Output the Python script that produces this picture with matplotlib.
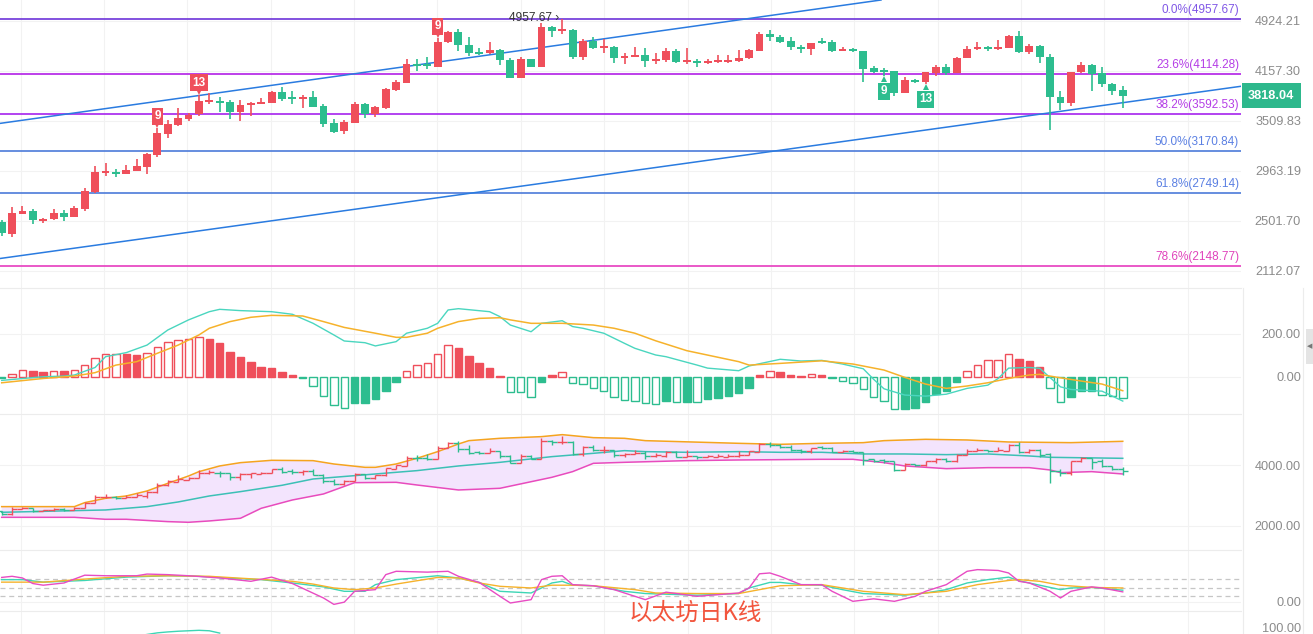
import numpy as np
import matplotlib
matplotlib.use('Agg')
import matplotlib.pyplot as plt
import matplotlib.ticker as mticker
import matplotlib.transforms as mtransforms
from matplotlib.patches import Rectangle

plt.rcParams['font.family'] = ['Liberation Sans', 'DejaVu Sans']

# ======================================================
# DANE - swiece dzienne ETH
# ======================================================

opens = [2494, 2391, 2562, 2585, 2502, 2514, 2566, 2536, 2605, 2757,
         2940, 2953, 2933, 2963, 3003, 3125, 3356, 3460, 3530, 3587,
         3740, 3752, 3740, 3619, 3699, 3715, 3731, 3864, 3803, 3781,
         3799, 3688, 3479, 3386, 3486, 3710, 3587, 3668, 3894, 3992,
         4249, 4249, 4215, 4577, 4734, 4537, 4434, 4410, 4459, 4311,
         4060, 4321, 4215, 4815, 4755, 4771, 4360, 4597, 4494, 4504,
         4345, 4360, 4390, 4296, 4311, 4444, 4286, 4296, 4263, 4286,
         4286, 4301, 4336, 4449, 4708, 4655, 4592, 4510, 4470, 4597,
         4577, 4449, 4474, 4449, 4199, 4167, 4153, 3859, 4029, 4002,
         4129, 4213, 4129, 4345, 4470, 4504, 4470, 4484, 4681, 4434,
         4519, 4360, 3808, 3730, 4134, 4241, 4125, 3970, 3894]
highs = [2508, 2618, 2632, 2600, 2522, 2603, 2591, 2629, 2797, 3010,
         3038, 2980, 3017, 3078, 3143, 3420, 3518, 3668, 3606, 3834,
         3850, 3799, 3761, 3761, 3744, 3787, 3877, 3930, 3877, 3829,
         3881, 3718, 3534, 3518, 3736, 3723, 3689, 3922, 4024, 4321,
         4325, 4359, 4639, 4760, 4788, 4655, 4484, 4578, 4474, 4344,
         4359, 4330, 4886, 4836, 4957.67, 4788, 4628, 4655, 4624, 4519,
         4410, 4499, 4484, 4410, 4484, 4470, 4489, 4321, 4325, 4380,
         4380, 4455, 4479, 4739, 4771, 4692, 4665, 4530, 4571, 4639,
         4612, 4504, 4494, 4449, 4222, 4199, 4153, 4066, 4038, 4139,
         4232, 4251, 4360, 4525, 4582, 4519, 4612, 4697, 4755, 4550,
         4530, 4395, 3877, 4143, 4282, 4251, 4213, 3984, 3945]
lows = [2376, 2369, 2557, 2474, 2485, 2508, 2502, 2531, 2588, 2750,
        2913, 2903, 2930, 2960, 2930, 3101, 3310, 3452, 3503, 3570,
        3720, 3617, 3527, 3503, 3570, 3711, 3731, 3750, 3712, 3668,
        3672, 3431, 3367, 3352, 3479, 3540, 3558, 3647, 3881, 3992,
        4153, 4186, 4215, 4561, 4449, 4370, 4386, 4395, 4239, 4060,
        4060, 4206, 4206, 4665, 4710, 4326, 4316, 4474, 4420, 4267,
        4257, 4360, 4208, 4257, 4282, 4267, 4257, 4215, 4257, 4272,
        4267, 4282, 4326, 4440, 4602, 4571, 4459, 4410, 4390, 4550,
        4434, 4440, 4430, 4005, 4121, 4080, 3816, 3851, 3992, 3971,
        4080, 4093, 4121, 4336, 4459, 4449, 4459, 4484, 4420, 4400,
        4267, 3401, 3640, 3689, 4121, 3885, 3939, 3829, 3668]
closes = [2398, 2571, 2585, 2505, 2516, 2566, 2536, 2609, 2766, 2950,
          2960, 2933, 2970, 3010, 3135, 3367, 3472, 3542, 3578, 3752,
          3765, 3731, 3619, 3705, 3731, 3740, 3868, 3781, 3781, 3799,
          3679, 3474, 3382, 3494, 3711, 3590, 3673, 3904, 4002, 4249,
          4229, 4220, 4577, 4734, 4537, 4420, 4405, 4459, 4307, 4060,
          4321, 4215, 4815, 4755, 4782, 4360, 4597, 4494, 4519, 4345,
          4370, 4390, 4296, 4326, 4444, 4286, 4311, 4263, 4296, 4311,
          4311, 4336, 4459, 4708, 4655, 4587, 4510, 4470, 4571, 4571,
          4449, 4474, 4440, 4181, 4143, 4143, 3859, 4029, 4002, 4139,
          4213, 4129, 4345, 4474, 4504, 4470, 4499, 4676, 4434, 4519,
          4351, 3808, 3730, 4134, 4241, 4116, 3970, 3885, 3818.04]

price_ticks = [4924.21, 4157.30, 3509.83, 2963.19, 2501.70, 2112.07]

fib_labels = ['0.0%', '23.6%', '38.2%', '50.0%', '61.8%', '78.6%']
fib_prices = [4957.67, 4114.28, 3592.53, 3170.84, 2749.14, 2148.77]
fib_line_colors = ['#6d34d9', '#b21fe6', '#a623ee', '#4c7ad9', '#4c7ad9', '#e63cbf']
fib_text_colors = ['#8057e6', '#b43de6', '#b43de6', '#5b80e3', '#5b80e3', '#e043bb']

# linie trendu: dwa punkty (indeks swiecy, cena)
trend_upper_idx = [0, 80]
trend_upper_price = [3481, 5161]
trend_lower_idx = [0, 100]
trend_lower_price = [2203, 3588]

# sekwencja TD
td_up_idx = [15, 19, 42]
td_up_text = ['9', '13', '9']
td_dn_idx = [85, 89]
td_dn_text = ['9', '13']

# MACD - histogram (1 = wypelniony slupek)
macd_hist = [-4, 15, 31, 28, 22, 26, 25, 31, 53, 85,
             105, 105, 104, 103, 108, 136, 160, 169, 175, 183,
             175, 157, 115, 91, 68, 45, 39, 22, 8, -8,
             -43, -91, -133, -147, -121, -121, -105, -65, -26, 26,
             53, 64, 104, 146, 133, 96, 64, 40, 5, -70,
             -71, -93, -26, 8, 20, -29, -36, -54, -64, -95,
             -109, -112, -124, -127, -112, -116, -115, -117, -105, -101,
             -88, -74, -51, 6, 26, 22, 6, 5, 11, 6,
             -8, -20, -31, -56, -96, -112, -149, -149, -144, -116,
             -81, -64, -23, 26, 53, 76, 78, 105, 82, 73,
             45, -50, -116, -96, -68, -67, -85, -88, -101]
macd_filled = [1, 0, 0, 1, 1, 0, 1, 0, 0, 0,
               0, 0, 1, 1, 0, 0, 0, 0, 0, 0,
               1, 1, 1, 1, 1, 1, 1, 1, 1, 0,
               0, 0, 0, 0, 1, 1, 1, 1, 1, 0,
               0, 0, 0, 0, 1, 1, 1, 1, 1, 0,
               0, 0, 1, 1, 0, 0, 0, 0, 0, 0,
               0, 0, 0, 0, 1, 0, 1, 0, 1, 1,
               1, 1, 1, 1, 0, 1, 1, 1, 0, 1,
               0, 0, 0, 0, 0, 0, 0, 1, 1, 1,
               1, 1, 1, 0, 0, 0, 0, 0, 1, 1,
               1, 0, 0, 1, 1, 1, 0, 0, 0]
dif_idx = [0, 4, 6, 7, 9, 10, 12, 14, 16, 18, 20, 21, 23, 26, 28, 30, 32, 33, 35, 36,
           38, 39, 41, 42, 43, 44, 47, 48, 49, 51, 52, 54, 55, 56, 58, 60, 61, 63, 64, 67,
           68, 71, 72, 75, 77, 79, 81, 83, 84, 85, 87, 89, 91, 93, 95, 96, 97, 99, 100, 102,
           103, 104, 106, 107, 108]
dif_val = [-17, 0, 3, 8, 43, 93, 112, 147, 217, 264, 302, 313, 307, 302, 290, 248, 194, 166, 158, 143,
           163, 202, 225, 248, 310, 316, 302, 279, 240, 209, 248, 260, 233, 225, 202, 155, 132, 101, 93, 54,
           40, 28, 50, 81, 73, 76, 59, 37, -12, -56, -85, -90, -81, -54, -39, -8, 40, 43, 39, -47,
           -59, -62, -67, -90, -113]
dea_idx = [0, 4, 7, 9, 11, 13, 15, 17, 19, 20, 22, 24, 26, 29, 31, 33, 36, 38, 39, 41,
           42, 44, 46, 48, 49, 51, 54, 57, 59, 61, 63, 66, 71, 72, 75, 79, 82, 85, 87, 89,
           91, 93, 95, 97, 99, 100, 102, 104, 106, 108]
dea_val = [-28, -8, 3, 19, 54, 70, 109, 147, 194, 225, 256, 276, 285, 282, 256, 229, 202, 183, 183, 202,
           225, 256, 271, 274, 264, 248, 248, 240, 225, 202, 167, 121, 70, 54, 62, 74, 59, 31, -3, -34,
           -54, -43, -28, -8, 8, 11, -5, -20, -34, -65]

# BOLL
up_idx = [0, 7, 8, 10, 12, 14, 16, 18, 19, 21, 23, 26, 30, 32, 35, 36, 38, 40, 42, 44,
          45, 48, 52, 54, 57, 60, 62, 71, 75, 79, 83, 85, 89, 93, 97, 103, 108]
up_val = [2638, 2638, 2770, 2912, 2989, 3154, 3406, 3648, 3791, 3978, 4087, 4164, 4153, 4043, 3933,
          3933, 4043, 4230, 4450, 4702, 4812, 4889, 4944, 5010, 4911, 4889, 4812, 4724, 4691, 4724,
          4746, 4812, 4856, 4834, 4768, 4746, 4790]
mid_idx = [0, 7, 10, 14, 17, 20, 23, 27, 30, 32, 36, 40, 44, 48, 53, 57, 60, 62, 66, 71,
           75, 79, 83, 87, 91, 95, 99, 101, 108]
mid_val = [2451, 2506, 2528, 2638, 2792, 2989, 3132, 3341, 3549, 3604, 3714, 3824, 3978, 4098, 4285,
           4395, 4483, 4450, 4428, 4450, 4428, 4428, 4373, 4373, 4351, 4373, 4307, 4263, 4230]
dn_idx = [0, 7, 10, 12, 16, 18, 20, 23, 25, 28, 31, 34, 38, 40, 44, 48, 53, 55, 57, 60,
          66, 71, 79, 82, 85, 87, 91, 95, 99, 101, 102, 105, 108]
dn_val = [2286, 2286, 2221, 2221, 2144, 2122, 2166, 2254, 2583, 2857, 3055, 3428, 3439, 3351, 3187,
          3242, 3604, 3791, 4065, 4098, 4153, 4175, 4197, 4197, 4087, 3978, 3889, 3922, 3922, 3846,
          3758, 3791, 3714]

# KDJ
k_idx = [0, 2, 4, 8, 12, 16, 19, 22, 25, 28, 31, 33, 35, 36, 38, 42, 44, 46, 48, 51,
         53, 54, 55, 57, 60, 62, 67, 71, 72, 74, 75, 77, 79, 81, 83, 87, 89, 91, 93, 95,
         97, 98, 100, 102, 103, 105, 108]
k_val = [79, 79, 70, 76, 88, 93, 91, 84, 79, 67, 53, 37, 37, 61, 79, 93, 85, 69, 37, 31,
         67, 73, 59, 57, 37, 29, 23, 29, 49, 69, 69, 61, 59, 43, 29, 23, 31, 43, 67, 79,
         88, 75, 59, 43, 49, 51, 41]
d_idx = [0, 4, 8, 12, 16, 20, 24, 28, 30, 32, 34, 36, 38, 42, 44, 46, 48, 51, 53, 55,
         57, 61, 63, 67, 71, 73, 75, 79, 83, 87, 91, 94, 97, 98, 100, 102, 105, 108]
d_val = [70, 70, 81, 91, 93, 91, 82, 73, 63, 49, 43, 49, 63, 87, 85, 67, 55, 49, 59, 59,
         57, 43, 31, 29, 29, 43, 57, 61, 37, 25, 37, 61, 76, 79, 73, 59, 51, 49]
j_idx = [0, 1, 2, 3, 4, 6, 8, 10, 13, 14, 16, 18, 21, 24, 26, 28, 31, 32, 33, 34,
         36, 37, 38, 41, 43, 44, 46, 48, 49, 51, 52, 53, 54, 55, 57, 59, 61, 62, 64, 67,
         69, 71, 72, 73, 74, 75, 77, 79, 80, 82, 84, 86, 88, 89, 91, 93, 94, 96, 97, 98,
         99, 101, 102, 103, 105, 106, 108]
j_val = [87, 91, 85, 65, 59, 67, 95, 93, 93, 99, 97, 93, 85, 73, 88, 65, 13, -10, -2, 37,
         43, 97, 109, 106, 109, 91, 69, 19, -5, 7, 79, 91, 93, 61, 57, 43, 19, 7, 34, 19,
         25, 31, 49, 100, 103, 91, 61, 61, 37, 1, 10, 1, 19, 37, 61, 109, 115, 112, 103, 73,
         67, 37, 13, 37, 53, 49, 35]

# dolny panel (widoczny tylko fragment linii)
low_idx = [13, 14, 15, 16, 17, 18, 19, 20, 21]
low_vals = [60, 68, 75, 79, 82, 84, 86, 84, 74]

# ======================================================
# STYL
# ======================================================

W, H = 1313, 634
RED = '#ef4f5b'
GREEN = '#2dbd8f'
GRID = '#f2f2f2'
LABEL = '#8b8b8b'
XMIN, XMAX = -0.164, 119.39
VGRID = np.arange(1.83, XMAX, 8.03)


def px_rect(x0, y0, x1, y1):
    return [x0 / W, 1 - y1 / H, (x1 - x0) / W, (y1 - y0) / H]


def style_panel(ax, ticks, labels, top_line=True):
    for s in ax.spines.values():
        s.set_visible(False)
    if top_line:
        ax.spines['top'].set_visible(True)
        ax.spines['top'].set_color('#ececec')
        ax.spines['top'].set_linewidth(0.8)
    ax.set_xlim(XMIN, XMAX)
    ax.set_xticks(VGRID)
    ax.set_xticklabels([])
    ax.set_yticks(ticks)
    ax.set_yticklabels(labels)
    ax.yaxis.set_minor_locator(mticker.NullLocator())
    ax.tick_params(axis='x', length=0)
    ax.tick_params(axis='y', left=False, labelleft=False, right=False, labelright=True,
                   length=0, pad=43.2, labelsize=9.2, labelcolor=LABEL)
    for lbl in ax.get_yticklabels():
        lbl.set_horizontalalignment('right')
    ax.grid(True, color=GRID, lw=0.8)
    ax.set_axisbelow(True)


idx = np.arange(len(closes))
o = np.array(opens, dtype=float)
h = np.array(highs, dtype=float)
l = np.array(lows, dtype=float)
c = np.array(closes, dtype=float)
up = c >= o
colors = np.where(up, RED, GREEN)

fig = plt.figure(figsize=(W / 100, H / 100), dpi=100)

# ======================================================
# PANEL GLOWNY - swiece, Fibonacci, trend
# ======================================================

ax = fig.add_axes(px_rect(0, 0, 1241, 288))
ax.set_yscale('log')
ax.set_ylim(1992, 5282)
style_panel(ax, price_ticks, ['%.2f' % t for t in price_ticks], top_line=False)

for lab, p, lc, tc in zip(fib_labels, fib_prices, fib_line_colors, fib_text_colors):
    ax.axhline(p, color=lc, lw=1.2, zorder=2)
    ax.annotate('%s(%.2f)' % (lab, p), xy=(0.9985, p), xycoords=('axes fraction', 'data'),
                xytext=(0, 9), textcoords='offset pixels', ha='right', va='center',
                fontsize=8.5, color=tc)

ax.axline((trend_upper_idx[0], trend_upper_price[0]), (trend_upper_idx[1], trend_upper_price[1]),
          color='#2a7be0', lw=1.1, zorder=2)
ax.axline((trend_lower_idx[0], trend_lower_price[0]), (trend_lower_idx[1], trend_lower_price[1]),
          color='#2a7be0', lw=1.1, zorder=2)

ax.vlines(idx, l, h, colors=colors, lw=1.2, zorder=3)
ax.bar(idx, np.maximum(o, c) - np.minimum(o, c), bottom=np.minimum(o, c), width=0.76,
       color=colors, lw=0, zorder=4)

up_tr = mtransforms.offset_copy(ax.transData, fig=fig, x=0, y=3, units='dots')
dn_tr = mtransforms.offset_copy(ax.transData, fig=fig, x=0, y=-3, units='dots')
for i, t in zip(td_up_idx, td_up_text):
    ax.plot(i, h[i], marker='v', ms=5, color=RED, mew=0, transform=up_tr, zorder=5)
    ax.annotate(t, xy=(i, h[i]), xytext=(0, 12), textcoords='offset pixels', ha='center',
                va='center', color='white', fontsize=8.5, fontweight='bold', zorder=6,
                bbox=dict(boxstyle='square,pad=0.2', fc=RED, ec='none'))
for i, t in zip(td_dn_idx, td_dn_text):
    ax.plot(i, l[i], marker='^', ms=5, color=GREEN, mew=0, transform=dn_tr, zorder=5)
    ax.annotate(t, xy=(i, l[i]), xytext=(0, -15), textcoords='offset pixels', ha='center',
                va='center', color='white', fontsize=8.5, fontweight='bold', zorder=6,
                bbox=dict(boxstyle='square,pad=0.2', fc=GREEN, ec='none'))

top_i = int(np.argmax(h))
ax.annotate('%.2f ›' % h[top_i], xy=(top_i, h[top_i]), xytext=(-3, 1), textcoords='offset pixels',
            ha='right', va='center', fontsize=8.6, color='#333333')

ax.annotate('%.2f' % c[-1], xy=(1, c[-1]), xycoords=('axes fraction', 'data'),
            xytext=(7, 0), textcoords='offset pixels', ha='left', va='center',
            fontsize=9.2, fontweight='bold', color='white', annotation_clip=False,
            bbox=dict(boxstyle='square,pad=0.5', fc='#2db88c', ec='none'))

# ======================================================
# MACD
# ======================================================

ax_m = fig.add_axes(px_rect(0, 288, 1241, 414))
ax_m.set_ylim(-173, 412)
style_panel(ax_m, [0, 200], ['0.00', '200.00'])
hist = np.array(macd_hist, dtype=float)
hcol = np.where(hist >= 0, RED, GREEN)
fcol = [hc if f else 'white' for hc, f in zip(hcol, macd_filled)]
ax_m.bar(idx, hist, width=0.72, color=fcol, edgecolor=hcol, lw=1.0, zorder=3)
ax_m.plot(dif_idx, dif_val, color='#4ad6bf', lw=1.0, zorder=4)
ax_m.plot(dea_idx, dea_val, color='#f6b22b', lw=1.1, zorder=4)

# ======================================================
# BOLL
# ======================================================

ax_b = fig.add_axes(px_rect(0, 414, 1241, 550))
ax_b.set_ylim(1209, 5690)
style_panel(ax_b, [2000, 4000], ['2000.00', '4000.00'])
ax_b.fill(up_idx + dn_idx[::-1], up_val + dn_val[::-1], color='#f3e4fd', lw=0, zorder=1)
ax_b.plot(up_idx, up_val, color='#f5a41f', lw=1.1, zorder=3)
ax_b.plot(mid_idx, mid_val, color='#3cc0b6', lw=1.1, zorder=3)
ax_b.plot(dn_idx, dn_val, color='#e84bbd', lw=1.1, zorder=3)
ax_b.vlines(idx, l, h, colors=colors, lw=1.0, zorder=4)
ax_b.hlines(o, idx - 0.5, idx, colors=colors, lw=1.0, zorder=4)
ax_b.hlines(c, idx, idx + 0.5, colors=colors, lw=1.0, zorder=4)

# ======================================================
# KDJ
# ======================================================

ax_k = fig.add_axes(px_rect(0, 550, 1241, 611))
ax_k.set_ylim(-33.8, 185.6)
style_panel(ax_k, [0], ['0.00'])
for lvl in (20, 50, 80):
    ax_k.axhline(lvl, color='#c6c6c6', lw=0.9, ls=(0, (4, 3)), zorder=2)
ax_k.plot(k_idx, k_val, color='#3dd6b5', lw=1.0, zorder=3)
ax_k.plot(d_idx, d_val, color='#f6b22b', lw=1.0, zorder=3)
ax_k.plot(j_idx, j_val, color='#e84bc3', lw=1.0, zorder=3)

# ======================================================
# DOLNY PANEL
# ======================================================

ax_r = fig.add_axes(px_rect(0, 611, 1241, 634))
ax_r.set_ylim(70, 170)
style_panel(ax_r, [100], ['100.00'])
ax_r.grid(False, axis='y')
ax_r.plot(low_idx, low_vals, color='#3dd6b5', lw=1.0)

# separatory osi cen i uchwyt
for xp in (1243, 1303):
    fig.add_artist(plt.Line2D([xp / W, xp / W], [0, 1 - 288 / H], transform=fig.transFigure,
                              color='#ececec', lw=0.8))
fig.add_artist(Rectangle((1306 / W, 1 - 364 / H), 7 / W, 35 / H, transform=fig.transFigure,
                         fc='#e4e4e4', ec='none'))
fig.text(1310 / W, 1 - 346 / H, '◀', fontsize=5, color='#777777', ha='center', va='center',
         family=['DejaVu Sans'])

fig.text(695 / W, 1 - 613 / H, '以太坊日K线', fontsize=17, color='#f2553d', ha='center',
         va='center', family=['Noto Sans CJK SC', 'DejaVu Sans'])

fig.savefig('out.png', dpi=100)
